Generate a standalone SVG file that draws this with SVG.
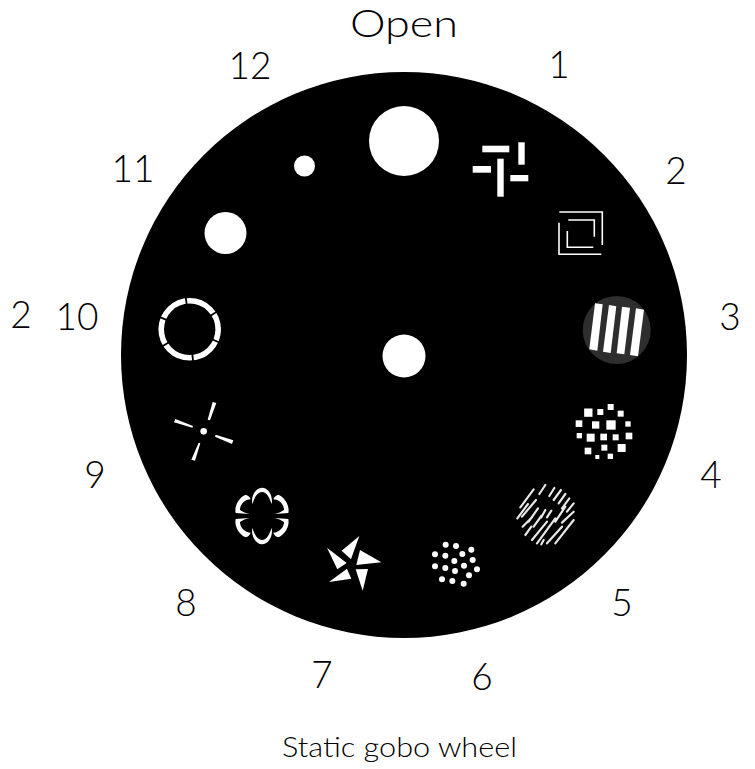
<svg xmlns="http://www.w3.org/2000/svg" width="755" height="769" viewBox="0 0 755 769">
<style>
text{font-family:"Lato","Liberation Sans",sans-serif;font-weight:300;fill:#000;text-anchor:middle}
.n{font-size:37px}
.t{text-anchor:start}
.w{fill:#fff}
.l{fill:none;stroke:#fff;stroke-width:1.6}
.h{fill:none;stroke:#e8e8e8;stroke-width:6.5;stroke-linecap:round}
</style>
<rect width="755" height="769" fill="#fff"/>
<g id="wheel"><circle cx="404" cy="355" r="283"/></g>
<g id="gobo-open"><circle class="w" cx="404" cy="141" r="35"/></g>
<g id="gobo-center"><circle class="w" cx="404" cy="356" r="21.5"/></g>
<g id="gobo-1" class="w">
<rect x="482.3" y="145.7" width="27" height="6.6"/><rect x="518.3" y="142.3" width="6.4" height="22.4"/><rect x="472.7" y="166" width="18.3" height="6.7"/><rect x="497.3" y="158.7" width="6.4" height="38"/><rect x="510.3" y="175" width="18" height="6.3"/>
</g>
<g id="gobo-2" class="l">
<path d="M559.3 212H602.3V245"/><path d="M559 222.7V254.3H601.3"/><path d="M568.3 220H594.3V236.7"/><path d="M567.3 231V247.3H593.3"/>
</g>
<g id="gobo-3">
<circle cx="616.7" cy="330" r="34" fill="#2e2e2e"/>
<g class="w"><polygon points="595,303.3 602.7,304.3 597.3,350.7 589.3,349.3"/><polygon points="609,305 616.3,306.3 610.7,353 603,351.7"/><polygon points="622,306.7 630,307.7 624.3,354.3 616.7,353.3"/><polygon points="636,308.3 644,309.7 638,356.3 630,355"/></g>
</g>
<g id="gobo-4" class="w" transform="translate(500 285) scale(.3333)">
<rect x="323" y="357" width="18" height="18"/><rect x="252.500" y="370.500" width="25" height="25"/><rect x="292" y="372" width="18" height="18"/><rect x="353" y="377" width="18" height="18"/><rect x="227" y="406" width="20" height="20"/><rect x="276" y="409" width="22" height="22"/><rect x="319" y="406" width="28" height="28"/><rect x="376" y="409" width="16" height="16"/><rect x="230" y="444" width="16" height="16"/><rect x="260" y="446" width="24" height="24"/><rect x="301" y="446" width="20" height="20"/><rect x="338" y="448" width="18" height="18"/><rect x="377" y="443" width="20" height="20"/><rect x="254" y="488" width="20" height="20"/><rect x="304" y="479" width="18" height="18"/><rect x="353" y="477" width="24" height="24"/><rect x="286" y="510" width="12" height="12"/><rect x="323" y="506" width="16" height="16"/>
</g>
<g id="gobo-5" class="h" transform="translate(512 480) scale(.3333)">
<path d="M82 42L100 15M112 48L127 24M125 60L147 30M140 70L160 42M150 85L172 55M165 95L185 70M25 82L65 28M16 115L48 72M30 110L72 60M50 125L78 85M88 112L100 90M105 112L118 92M130 125L160 80M150 128L185 95M32 140L60 112M40 165L58 140M65 140L88 108M60 180L105 125M75 190L130 115M88 193L95 180M105 190L150 140M130 190L185 120"/>
</g>
<g id="gobo-6" class="w" transform="translate(420 475) scale(.3333)">
<circle cx="77" cy="209" r="9"/><circle cx="108" cy="213" r="9"/><circle cx="154" cy="224" r="9"/><circle cx="45" cy="238" r="9"/><circle cx="76" cy="242" r="9"/><circle cx="127" cy="237" r="9"/><circle cx="158" cy="255" r="9"/><circle cx="103" cy="258" r="9"/><circle cx="45" cy="274" r="9"/><circle cx="76" cy="279" r="9"/><circle cx="132" cy="272" r="9"/><circle cx="105" cy="288" r="9"/><circle cx="171" cy="283" r="9"/><circle cx="147" cy="301" r="9"/><circle cx="66" cy="313" r="9"/><circle cx="97" cy="318" r="9"/><circle cx="131" cy="326" r="9"/>
</g>
<g id="gobo-7" class="w" transform="translate(220 480) scale(.3333)">
<polygon points="418,168 365,212 393,238"/><polygon points="321,203 352,268 380,249"/><polygon points="420,210 484,247 409,255"/><polygon points="327,306 394,296 381,266"/><polygon points="428,332 444,267 407,268"/>
</g>
<g id="gobo-8" class="w" transform="translate(228 482) scale(.3333)">
<path d="M73 66C68 40 85 17 102 17C120 17 136 40 131 66C126 52 118 30 102 30C86 30 78 52 73 66Z"/>
<path d="M64 96L23 93C18 70 35 45 53 38C60 40 66 45 68 52C52 52 36 66 36 84C44 90 54 93 64 96Z"/>
<path transform="translate(204 0) scale(-1 1)" d="M64 96L23 93C18 70 35 45 53 38C60 40 66 45 68 52C52 52 36 66 36 84C44 90 54 93 64 96Z"/>
<path transform="translate(0 204) scale(1 -1)" d="M64 96L23 93C18 70 35 45 53 38C60 40 66 45 68 52C52 52 36 66 36 84C44 90 54 93 64 96Z"/>
<path transform="translate(204 204) scale(-1 -1)" d="M64 96L23 93C18 70 35 45 53 38C60 40 66 45 68 52C52 52 36 66 36 84C44 90 54 93 64 96Z"/>
<path transform="translate(0 204) scale(1 -1)" d="M73 66C68 40 85 17 102 17C120 17 136 40 131 66C126 52 118 30 102 30C86 30 78 52 73 66Z"/>
</g>
<g id="gobo-9" class="w" transform="translate(150 290) scale(.3333)">
<circle cx="161" cy="424" r="10"/>
<polygon points="188,336 199,339 180,391 173,389"/><polygon points="76,387 72,397 127,413 129,408"/><polygon points="250,451 246,462 195,440 197,434"/><polygon points="124,509 135,512 151,460 146,458"/>
</g>
<g id="gobo-10">
<circle cx="189.700" cy="329.300" r="28.500" fill="none" stroke="#fff" stroke-width="5.600"/>
<path d="M186.900 306.500L185.400 294.500M209 316.800L219 310.200M210.700 338.700L221.700 343.500M192.100 352.200L193.400 364.100M170.200 341.500L160 347.800M168.400 320.700L157.200 316.200" stroke="#000" stroke-width="1.800" fill="none"/>
</g>
<g id="gobo-11"><circle class="w" cx="225.500" cy="233" r="21"/></g>
<g id="gobo-12"><circle class="w" cx="304.500" cy="166" r="10.500"/></g>
<g id="labels">
<text class="t" x="350" y="37" font-size="37" textLength="108" lengthAdjust="spacingAndGlyphs">Open</text>
<text class="n" x="250" y="79">12</text><text class="n" x="559" y="78">1</text><text class="n" x="676" y="184">2</text><text class="n" x="730" y="330">3</text><text class="n" x="711" y="488">4</text><text class="n" x="622" y="616">5</text><text class="n" x="482" y="690">6</text><text class="n" x="322" y="688">7</text><text class="n" x="186" y="616">8</text><text class="n" x="95" y="488">9</text><text class="n" x="77" y="330">10</text><text class="n" x="21" y="328">2</text><text class="n" x="133" y="182">11</text>
<text class="t" x="282" y="757" font-size="27" textLength="235" lengthAdjust="spacingAndGlyphs">Static gobo wheel</text>
</g>
</svg>
